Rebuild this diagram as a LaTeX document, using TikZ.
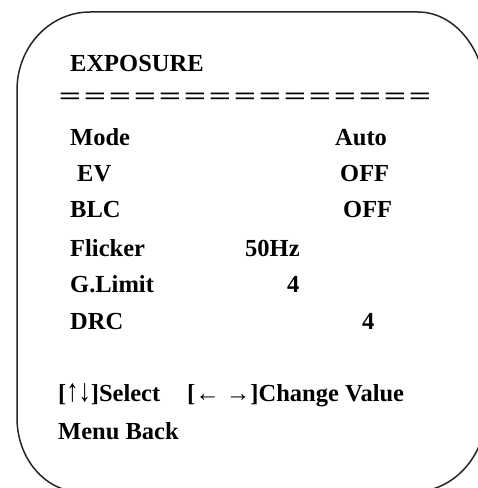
\documentclass[tikz,border=0pt]{standalone}
\usepackage{fontspec}
\setmainfont{Liberation Serif}
\tikzset{
  osd/.style={anchor=base west, inner sep=0pt, font=\bfseries\fontsize{24.5}{29}\selectfont},
  bar/.style={anchor=base, inner sep=0pt, font=\bfseries\fontsize{24.5}{29}\selectfont},
  frame/.style={line width=1.5pt, draw=black!85}
}
\begin{document}
\begin{tikzpicture}[x=1pt,y=1pt]
    \clip (0,0) rectangle (478,488);
    % Frame
    \draw[frame] (17,398) arc[start angle=180, end angle=90, x radius=73, y radius=78]
      -- (418,476) arc[start angle=90, end angle=0, x radius=68, y radius=87]
      -- (486,76) arc[start angle=0, end angle=-90, x radius=73, y radius=80]
      -- (81,-4) arc[start angle=270, end angle=180, x radius=64, y radius=74]
      -- cycle;
    % Title
    \node[osd] (title) at (70,416) {EXPOSURE};
    \foreach \i in {0,...,14}
      \node[bar, xscale=1.6] (eq\i) at (70+25*\i,383) {=};
    % Items
    \node[osd] (mode) at (70,342) {Mode};
    \node[osd] (modeval) at (335,342) {Auto};
    \node[osd] (ev) at (77,306) {EV};
    \node[osd] (evval) at (340,306) {OFF};
    \node[osd] (blc) at (70,270) {BLC};
    \node[osd] (blcval) at (343,270) {OFF};
    \node[osd] (flicker) at (70,231) {Flicker};
    \node[osd] (flickerval) at (245,231) {50Hz};
    \node[osd] (glimit) at (70,195) {G.Limit};
    \node[osd] (glimitval) at (287,195) {4};
    \node[osd] (drc) at (70,158) {DRC};
    \node[osd] (drcval) at (362,158) {4};
    % Keys
    \node[osd] (select) at (58,86) {[{\mdseries\scalebox{1}[1.3]{↑↓}}]Select};
    \node[osd] (change) at (187,86) {[{\mdseries← →}]Change Value};
    \node[osd] (back) at (58,48) {Menu Back};
\end{tikzpicture}
\end{document}
